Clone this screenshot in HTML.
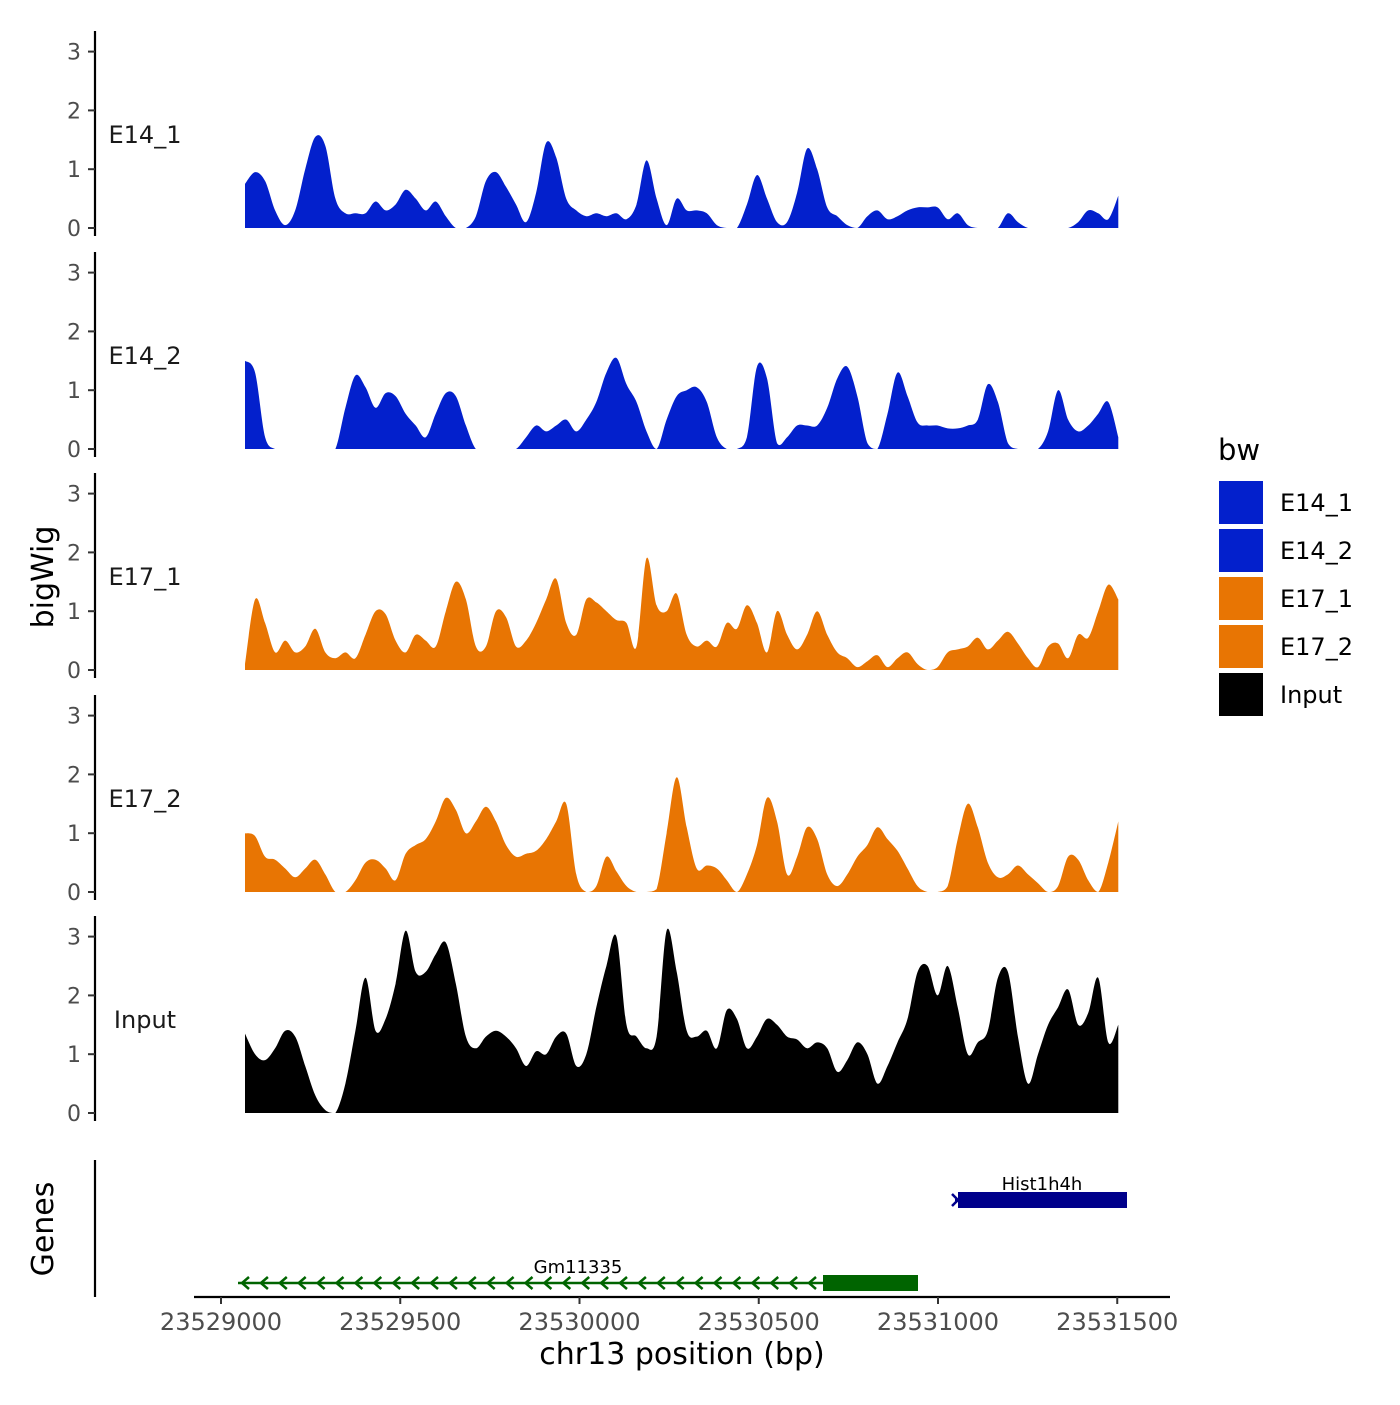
<!DOCTYPE html>
<html><head><meta charset="utf-8">
<style>
html,body{margin:0;padding:0;background:#fff;}
svg text{font-family:"DejaVu Sans","Liberation Sans",sans-serif;}
</style></head>
<body>
<svg id="chart" width="1400" height="1400" viewBox="0 0 1400 1400" xmlns="http://www.w3.org/2000/svg">
<rect width="1400" height="1400" fill="#fff"/>
<g id="tracks"></g>
<g id="genes"></g>
<g id="xaxis"></g>
<text x="53" y="577" font-size="30" text-anchor="middle" transform="rotate(-90 53 577)">bigWig</text>
<text x="53" y="1229" font-size="30" text-anchor="middle" transform="rotate(-90 53 1229)">Genes</text>
<text x="682" y="1364" font-size="30" text-anchor="middle">chr13 position (bp)</text>
<g id="legend"></g>
</svg>
<script>
const trackNames = ["E14_1","E14_2","E17_1","E17_2","Input"];
const trackColors = ["#0320CC","#0320CC","#E87503","#E87503","#000000"];
const binStart = 23529067;
const binStep = 28;
const e14_1 = [0.75,0.95,0.8,0.3,0.05,0.3,1.0,1.55,1.4,0.5,0.25,0.25,0.25,0.45,0.3,0.4,0.65,0.5,0.3,0.45,0.2,0,0,0.2,0.8,0.95,0.7,0.4,0.1,0.6,1.45,1.2,0.5,0.3,0.2,0.25,0.2,0.25,0.15,0.4,1.15,0.5,0.05,0.5,0.3,0.3,0.25,0.05,0,0,0.4,0.9,0.5,0.1,0.1,0.6,1.35,1.0,0.35,0.2,0.05,0,0.2,0.3,0.15,0.2,0.3,0.35,0.35,0.35,0.15,0.25,0.05,0,0,0,0.25,0.1,0,0,0,0,0,0.1,0.3,0.25,0.15,0.55];
const e14_2 = [1.5,1.3,0.2,0,0,0,0,0,0,0,0.7,1.25,1.05,0.7,0.95,0.9,0.6,0.4,0.2,0.6,0.95,0.9,0.4,0,0,0,0,0,0.2,0.4,0.3,0.4,0.5,0.3,0.5,0.8,1.3,1.55,1.1,0.8,0.3,0,0.5,0.9,1.0,1.05,0.8,0.2,0,0,0.2,1.4,1.2,0.1,0.2,0.4,0.4,0.4,0.7,1.2,1.4,0.9,0.1,0,0.6,1.3,0.9,0.45,0.4,0.4,0.35,0.35,0.4,0.5,1.1,0.8,0.1,0,0,0,0.3,1.0,0.5,0.3,0.4,0.6,0.8,0.2];
const e17_1 = [0.1,1.2,0.8,0.3,0.5,0.3,0.4,0.7,0.3,0.2,0.3,0.2,0.6,1.0,0.95,0.5,0.3,0.6,0.5,0.4,1.0,1.5,1.2,0.4,0.4,1.0,0.9,0.4,0.5,0.8,1.2,1.55,0.8,0.6,1.2,1.15,1.0,0.85,0.8,0.4,1.9,1.1,1.0,1.3,0.6,0.4,0.5,0.4,0.8,0.7,1.1,0.8,0.3,1.0,0.6,0.35,0.6,1.0,0.6,0.3,0.2,0.05,0.15,0.25,0.05,0.2,0.3,0.1,0,0.05,0.3,0.35,0.4,0.55,0.35,0.5,0.65,0.45,0.2,0.05,0.4,0.45,0.2,0.6,0.55,1.0,1.45,1.2];
const e17_2 = [1.0,0.95,0.6,0.55,0.4,0.25,0.4,0.55,0.3,0,0,0.2,0.5,0.55,0.4,0.2,0.65,0.8,0.9,1.2,1.6,1.4,1.0,1.2,1.45,1.2,0.8,0.6,0.65,0.7,0.9,1.2,1.5,0.3,0,0.1,0.6,0.35,0.1,0,0,0.05,1.0,1.95,1.1,0.4,0.45,0.4,0.2,0,0.3,0.8,1.6,1.2,0.3,0.6,1.1,0.9,0.3,0.1,0.3,0.6,0.8,1.1,0.9,0.7,0.4,0.1,0,0,0.1,0.9,1.5,1.1,0.5,0.25,0.3,0.45,0.3,0.15,0,0.1,0.6,0.55,0.2,0,0.5,1.2];
const input = [1.35,1.0,0.9,1.1,1.4,1.3,0.8,0.3,0.05,0,0.5,1.4,2.3,1.4,1.6,2.2,3.1,2.4,2.4,2.7,2.9,2.2,1.3,1.1,1.3,1.4,1.3,1.1,0.8,1.05,1.0,1.3,1.35,0.8,1.0,1.8,2.5,3.0,1.5,1.3,1.1,1.3,3.1,2.4,1.4,1.3,1.4,1.1,1.75,1.6,1.1,1.3,1.6,1.5,1.3,1.25,1.1,1.2,1.1,0.7,0.9,1.2,1.0,0.5,0.8,1.2,1.6,2.4,2.5,2.0,2.5,1.8,1.0,1.2,1.4,2.3,2.4,1.3,0.5,1.0,1.5,1.8,2.1,1.5,1.7,2.3,1.2,1.5];
const seriesData = [e14_1,e14_2,e17_1,e17_2,input];
const yTicks = [0,1,2,3];
const xTicks = [23529000,23529500,23530000,23530500,23531000,23531500];

const NS="http://www.w3.org/2000/svg";
function mk(tag, attrs, parent){const e=document.createElementNS(NS,tag);for(const k in attrs)e.setAttribute(k,attrs[k]);parent.appendChild(e);return e;}
const xScale = bp => 221 + (bp - 23529000) * 0.3585;
const panelBase = [228,449,670,892,1113];
const unit = 58.8;
const yScale = (p,v) => panelBase[p] - v*unit;

const tracks=document.getElementById('tracks');
seriesData.forEach((vals,p)=>{
  const g=mk('g',{},tracks);
  
  
  const pts=vals.map((v,i)=>[xScale(binStart+i*binStep),yScale(p,v)]);
  let d='M'+pts[0][0].toFixed(1)+','+panelBase[p]+' L'+pts[0][0].toFixed(1)+','+pts[0][1].toFixed(1);
  for(let i=1;i<pts.length;i++){
    const p0=pts[Math.max(i-2,0)],p1=pts[i-1],p2=pts[i],p3=pts[Math.min(i+1,pts.length-1)];
    const c1x=p1[0]+(p2[0]-p0[0])/6, c1y=Math.min(panelBase[p],p1[1]+(p2[1]-p0[1])/6);
    const c2x=p2[0]-(p3[0]-p1[0])/6, c2y=Math.min(panelBase[p],p2[1]-(p3[1]-p1[1])/6);
    d+=' C'+c1x.toFixed(1)+','+c1y.toFixed(1)+' '+c2x.toFixed(1)+','+c2y.toFixed(1)+' '+p2[0].toFixed(1)+','+p2[1].toFixed(1);
  }
  d+=' L'+pts[pts.length-1][0].toFixed(1)+','+panelBase[p]+' Z';
  const a=mk('path',{d:d,fill:trackColors[p]},g);
  
  
  const ax=mk('line',{x1:95,x2:95,y1:panelBase[p]-197,y2:panelBase[p]+8,stroke:'#000','stroke-width':2.2},g);
  
  
  yTicks.forEach(t=>{
    const y=yScale(p,t);
    mk('line',{x1:88,x2:95,y1:y,y2:y,stroke:'#333','stroke-width':2},g);
    const tx=mk('text',{x:81,y:y+8,'font-size':22,fill:'#4d4d4d','text-anchor':'end'},g);
    tx.textContent=t;
    
    
  });
  const lb=mk('text',{x:145,y:panelBase[p]-85,'font-size':24,fill:'#1a1a1a','text-anchor':'middle'},g);
  lb.textContent=trackNames[p];
  
  
});

const genes=document.getElementById('genes');
mk('line',{x1:95,x2:95,y1:1160,y2:1297,stroke:'#000','stroke-width':2.2},genes);
mk('line',{x1:955,x2:1127,y1:1200,y2:1200,stroke:'#00008B','stroke-width':2},genes);
const hb=mk('rect',{x:958,y:1192,width:169,height:16,fill:'#00008B'},genes);


mk('polyline',{points:'952,1194 958,1200 952,1206',fill:'none',stroke:'#00008B','stroke-width':2.5},genes);
const ht=mk('text',{x:1042,y:1190,'font-size':18,'text-anchor':'middle'},genes);
ht.textContent='Hist1h4h';


mk('line',{x1:238,x2:918,y1:1283,y2:1283,stroke:'#006400','stroke-width':2.5},genes);
for(let x=242;x<820;x+=18.9){
  mk('polyline',{points:(x+7)+','+1277+' '+x+','+1283+' '+(x+7)+','+1289,fill:'none',stroke:'#006400','stroke-width':2.5},genes);
}
const gb=mk('rect',{x:823,y:1275,width:95,height:16,fill:'#006400'},genes);


const gt=mk('text',{x:578,y:1273,'font-size':18,'text-anchor':'middle'},genes);
gt.textContent='Gm11335';



const xa=document.getElementById('xaxis');
mk('line',{x1:194,x2:1170,y1:1297,y2:1297,stroke:'#000','stroke-width':2.2},xa);
xTicks.forEach(t=>{
  const x=xScale(t);
  mk('line',{x1:x,x2:x,y1:1297,y2:1304,stroke:'#333','stroke-width':2},xa);
  const tx=mk('text',{x:x,y:1330,'font-size':24,fill:'#4d4d4d','text-anchor':'middle'},xa);
  tx.textContent=t;
  
  
});

const lg=document.getElementById('legend');
mk('text',{x:1218,y:460,'font-size':29},lg).textContent='bw';
trackNames.forEach((n,i)=>{
  const y=481+i*48;
  const r=mk('rect',{x:1219,y:y,width:44,height:43,fill:trackColors[i]},lg);
  
  
  const t=mk('text',{x:1280,y:y+30,'font-size':24},lg);
  t.textContent=n;
  
  
});
</script>
</body></html>
